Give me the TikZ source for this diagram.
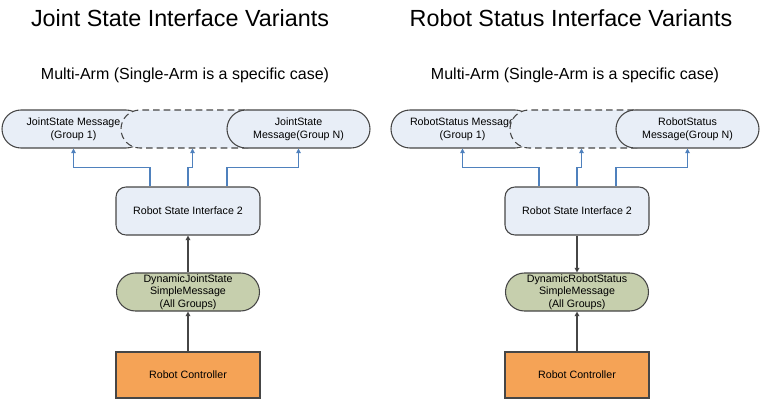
\documentclass[tikz,border=0pt]{standalone}
\usepackage{fontspec}
\setmainfont{Liberation Sans}
\usetikzlibrary{arrows.meta,calc}
\definecolor{msgfill}{RGB}{232,238,247}
\definecolor{dynfill}{RGB}{198,207,173}
\definecolor{ctrlfill}{RGB}{245,163,86}
\definecolor{linkblue}{RGB}{79,129,189}
\definecolor{edgegray}{RGB}{70,70,70}
\tikzset{
  msgbox/.style={rectangle, rounded corners=14.25pt, draw=edgegray, line width=0.8pt, fill=msgfill,
    minimum width=107.25pt, minimum height=28.5pt, inner sep=0pt, align=center,
    font=\fontsize{8}{9.5}\selectfont},
  dashbox/.style={msgbox, dashed, dash pattern=on 5pt off 3pt},
  ifbox/.style={rectangle, rounded corners=7.5pt, draw=edgegray, line width=0.8pt, fill=msgfill,
    minimum width=108pt, minimum height=36pt, inner sep=0pt, align=center,
    font=\fontsize{8}{9.5}\selectfont},
  dynbox/.style={msgbox, fill=dynfill},
  ctrlbox/.style={rectangle, draw=edgegray, line width=0.8pt, fill=ctrlfill,
    minimum width=108pt, minimum height=34.5pt, inner sep=0pt, align=center,
    font=\fontsize{8}{9.5}\selectfont},
  blink/.style={draw=linkblue, line width=0.8pt, -{Triangle[length=3.5pt,width=3.5pt]}},
  glink/.style={draw=edgegray, line width=1pt, -{Triangle[length=3.5pt,width=3.5pt,fill=black]}},
  titletext/.style={font=\fontsize{17.5}{20}\selectfont, inner sep=0pt},
  subtext/.style={font=\fontsize{12}{14}\selectfont, inner sep=0pt}
}
\begin{document}
\begin{tikzpicture}[x=0.75pt,y=-0.75pt]
\useasboundingbox (0,0) rectangle (761,400);
% ---------- Left ----------
\node[titletext] (tl) at (180,18) {Joint State Interface Variants};
\node[subtext] (sl) at (185,75) {Multi-Arm (Single-Arm is a specific case)};
\node[msgbox] (lg1) at (73.5,129) {JointState Message\\(Group 1)};
\node[dashbox] (lmid) at (192.5,129) {};
\node[msgbox] (lgN) at (298.5,129) {JointState\\Message(Group N)};
\node[ifbox] (lrsi) at (188,211) {Robot State Interface 2};
\node[dynbox] (ldyn) at (188,292) {DynamicJointState\\SimpleMessage\\(All Groups)};
\node[ctrlbox] (lrc) at (188,375) {Robot Controller};
\draw[blink] ($(lrsi.north)+(-38,0)$) -- ++(0,-19) -| (lg1.south);
\draw[blink] (lrsi.north) -- ++(0,-19) -| (lmid.south);
\draw[blink] ($(lrsi.north)+(39,0)$) -- ++(0,-19) -| (lgN.south);
\draw[glink] (ldyn.north) -- (lrsi.south);
\draw[glink] (lrc.north) -- (ldyn.south);
% ---------- Right ----------
\node[titletext] (tr) at (571,18) {Robot Status Interface Variants};
\node[subtext] (sr) at (575,75) {Multi-Arm (Single-Arm is a specific case)};
\node[msgbox] (rg1) at (462.5,129) {RobotStatus Message\\(Group 1)};
\node[dashbox] (rmid) at (581.5,129) {};
\node[msgbox] (rgN) at (687.5,129) {RobotStatus\\Message(Group N)};
\node[ifbox] (rrsi) at (577,211) {Robot State Interface 2};
\node[dynbox] (rdyn) at (577,292) {DynamicRobotStatus\\SimpleMessage\\(All Groups)};
\node[ctrlbox] (rrc) at (577,375) {Robot Controller};
\draw[blink] ($(rrsi.north)+(-38,0)$) -- ++(0,-19) -| (rg1.south);
\draw[blink] (rrsi.north) -- ++(0,-19) -| (rmid.south);
\draw[blink] ($(rrsi.north)+(39,0)$) -- ++(0,-19) -| (rgN.south);
\draw[glink] (rrsi.south) -- (rdyn.north);
\draw[glink] (rrc.north) -- (rdyn.south);
\end{tikzpicture}
\end{document}
